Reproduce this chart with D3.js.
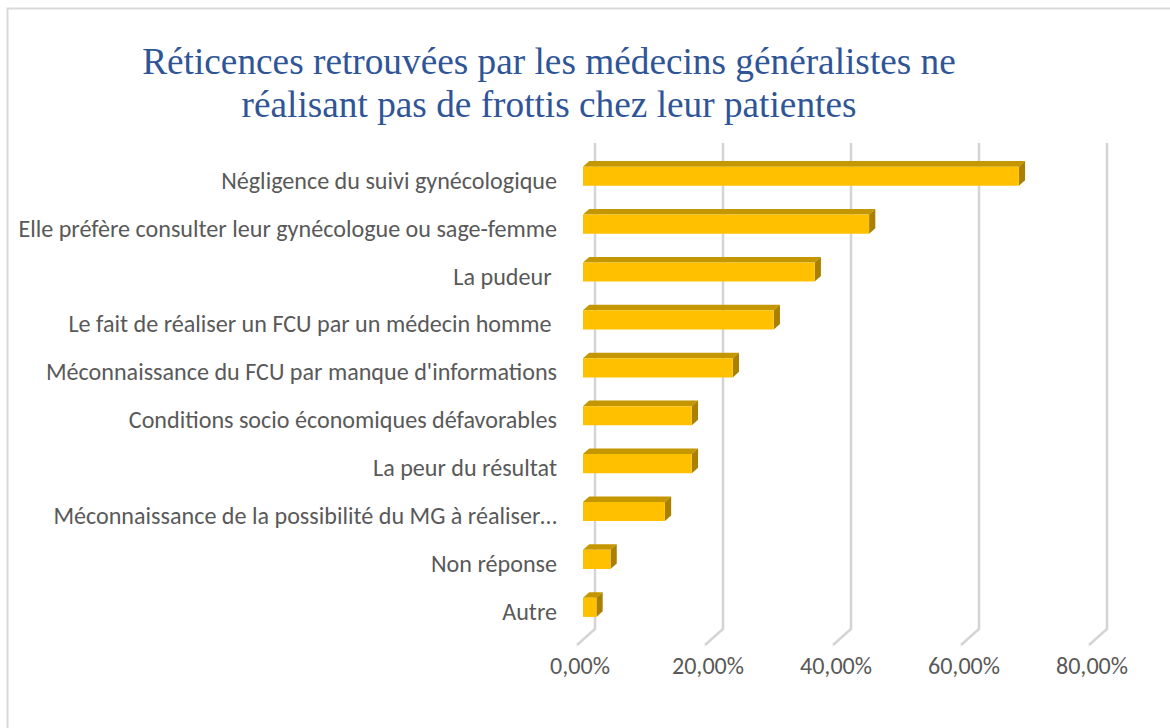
<!DOCTYPE html>
<meta charset="utf-8">
<style>
  body { margin: 0; background: #fff; }
  .cat { font-family: Carlito, Lato, "Open Sans", sans-serif; fill: #595959; white-space: pre; }
  .tick { font-family: Carlito, Lato, "Open Sans", sans-serif; fill: #595959; }
  .title { font-family: "Liberation Serif", "Times New Roman", serif; fill: #2f5597; }
</style>
<script src="https://d3js.org/d3.v7.min.js"></script>
<div id="chart"></div>
<script>
  // data (share of answers)
  var categories = [
    "Négligence du suivi gynécologique",
    "Elle préfère consulter leur gynécologue ou sage-femme",
    "La pudeur ",
    "Le fait de réaliser un FCU par un médecin homme ",
    "Méconnaissance du FCU par manque d'informations",
    "Conditions socio économiques défavorables",
    "La peur du résultat",
    "Méconnaissance de la possibilité du MG à réaliser…",
    "Non réponse",
    "Autre"
  ];
  var values = [0.681, 0.447, 0.362, 0.298, 0.234, 0.170, 0.170, 0.128, 0.043, 0.021];
  var ticks = [0, 0.2, 0.4, 0.6, 0.8];
  var titleLines = [
    "Réticences retrouvées par les médecins généralistes ne",
    "réalisant pas de frottis chez leur patientes"
  ];

  var width = 1170, height = 728;

  var svg = d3.select("#chart").append("svg")
    .attr("width", width)
    .attr("height", height);

  // chart frame (only left and top edges are inside the picture)
  svg.append("rect")
    .attr("x", 7.5).attr("y", 8.5)
    .attr("width", 1200).attr("height", 800)
    .attr("fill", "#fff")
    .attr("stroke", "#d9d9d9")
    .attr("stroke-width", 2);

  // 3D depth: z=0 front of floor, z=1 back wall
  var DX = 18, DY = -16;
  var x = d3.scaleLinear().domain([0, 0.8]).range([577, 1089]);
  var y = d3.scaleBand().domain(categories)
    .range([157.6, 636.6])
    .paddingInner(0.6)
    .paddingOuter(0.3);
  var floorY = 645, wallTop = 143;

  function p(v, yy, z) {
    return [x(v) + z * DX, yy + z * DY];
  }

  // gridlines: back wall verticals + floor diagonals
  var grid = svg.append("g");
  ticks.forEach(function(t) {
    var a = p(t, floorY, 0), b = p(t, floorY, 1), c = [b[0], wallTop];
    grid.append("path")
      .attr("d", d3.line()([a, b, c]))
      .attr("fill", "none")
      .attr("stroke", "#d4d4d4")
      .attr("stroke-width", 2.5);
  });

  // bars
  var z0 = 1 / 3, z1 = 0.68;
  var bars = svg.append("g");
  categories.forEach(function(cat, i) {
    var v = values[i];
    var top = y(cat), bot = y(cat) + y.bandwidth();
    var f1 = p(0, top, z0), f2 = p(v, top, z0), f3 = p(v, bot, z0), f4 = p(0, bot, z0);
    var b1 = p(0, top, z1), b2 = p(v, top, z1), b3 = p(v, bot, z1);
    bars.append("polygon")
      .attr("points", [f1, f2, b2, b1].join(" "))
      .attr("fill", "#c49600");
    bars.append("polygon")
      .attr("points", [f2, b2, b3, f3].join(" "))
      .attr("fill", "#a98000");
    bars.append("polygon")
      .attr("points", [f1, f2, f3, f4].join(" "))
      .attr("fill", "#ffc000");
  });

  // category labels
  var labels = svg.append("g").selectAll("text")
    .data(categories)
    .enter().append("text")
      .attr("class", "cat")
      .attr("x", 557)
      .attr("y", function(d) { return y(d) + y.bandwidth() / 2 + DY / 3 + 4; })
      .attr("text-anchor", "end")
      .attr("dominant-baseline", "central")
      .style("font-size", "20px")
      .text(function(d) { return d; });

  // fit label font so the longest label spans like the reference
  var longest = d3.max(labels.nodes(), function(n) { return n.getComputedTextLength(); });
  var fs = 20 * 539 / longest;
  labels.style("font-size", fs + "px");

  // value axis labels
  svg.append("g").selectAll("text")
    .data(ticks)
    .enter().append("text")
      .attr("class", "tick")
      .attr("x", function(d) { return x(d) + 3; })
      .attr("y", 665)
      .attr("text-anchor", "middle")
      .attr("dominant-baseline", "central")
      .style("font-size", fs + "px")
      .text(function(d) { return d3.format(".2f")(d * 100).replace(".", ",") + "%"; });

  // title
  var title = svg.append("g").selectAll("text")
    .data(titleLines)
    .enter().append("text")
      .attr("class", "title")
      .attr("x", 549)
      .attr("y", function(d, i) { return 74 + i * 43; })
      .attr("text-anchor", "middle")
      .style("font-size", "34px")
      .text(function(d) { return d; });
  var tw = title.nodes()[0].getComputedTextLength();
  title.style("font-size", (34 * 814 / tw) + "px");
</script>
